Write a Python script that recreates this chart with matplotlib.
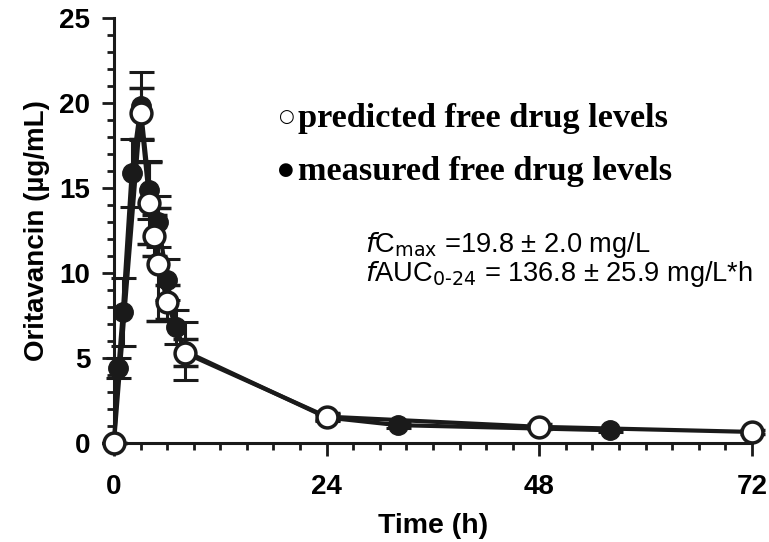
import matplotlib
matplotlib.use("Agg")
import matplotlib.pyplot as plt
from matplotlib.ticker import MultipleLocator

# measured free drug levels (filled)
meas_t = [0, 0.5, 1, 2, 3, 4, 5, 6, 7, 8, 24, 32, 56]
meas_y = [0, 4.4, 7.7, 15.9, 19.8, 14.9, 13.0, 9.6, 6.8, 5.4, 1.5, 1.05, 0.75]
meas_err = [0, 0.6, 2.0, 2.0, 2.0, 1.7, 1.5, 1.2, 1.0, 1.7, 0.2, 0.15, 0.1]

# predicted free drug levels (open)
pred_t = [0, 3, 4, 4.5, 5, 6, 8, 24, 48, 72]
pred_y = [0, 19.4, 14.1, 12.2, 10.5, 8.3, 5.3, 1.55, 0.95, 0.65]
pred_err = [0, 1.5, 2.4, 1.2, 3.3, 1.0, 0.8, 0.2, 0.15, 0.1]

x_ticks = [0, 24, 48, 72]
y_ticks = [0, 5, 10, 15, 20, 25]

plt.rcParams['font.family'] = ['Liberation Sans', 'DejaVu Sans']

fig = plt.figure(figsize=(7.69, 5.42), dpi=100)
ax = fig.add_axes([0.1482, 0.1827, 0.8297, 0.7841])

ax.errorbar(meas_t, meas_y, yerr=meas_err, fmt='-o', color='#1a1a1a',
            lw=3, ms=14, mfc='#1a1a1a', mec='#1a1a1a', elinewidth=2.2,
            capsize=9, capthick=2.2, clip_on=False, zorder=3)
ax.errorbar(pred_t, pred_y, yerr=pred_err, fmt='-o', color='#1a1a1a',
            lw=3, ms=15, mfc='white', mec='#1a1a1a', mew=2.5, elinewidth=2.2,
            capsize=9, capthick=2.2, clip_on=False, zorder=4)

ax.set_xlim(0, 72)
ax.set_ylim(0, 25)
ax.set_xticks(x_ticks)
ax.set_yticks(y_ticks)
ax.xaxis.set_minor_locator(MultipleLocator(3))
ax.yaxis.set_minor_locator(MultipleLocator(1))

for s in ['top', 'right']:
    ax.spines[s].set_visible(False)
for s in ['left', 'bottom']:
    ax.spines[s].set_linewidth(2.2)
    ax.spines[s].set_color('#1a1a1a')

ax.tick_params(which='major', length=9, width=2, color='#1a1a1a')
ax.tick_params(which='minor', length=5, width=2, color='#1a1a1a')
ax.tick_params(axis='x', which='major', pad=13)
ax.tick_params(axis='y', which='major', pad=8)
for lab in ax.get_xticklabels() + ax.get_yticklabels():
    lab.set_fontsize(20)
    lab.set_fontweight('bold')

ax.set_xlabel('Time (h)', fontsize=20.5, fontweight='bold', labelpad=10)
ax.set_ylabel('Oritavancin (\u00b5g/mL)', fontsize=20, fontweight='bold', labelpad=7)

serif = ['Liberation Serif', 'DejaVu Serif']
fig.text(0.3615, 0.784, '\u25cb', fontsize=13, family=['DejaVu Sans'], va='center')
fig.text(0.3875, 0.782, 'predicted free drug levels', fontsize=24.7, family=serif,
         fontweight='bold', va='center')
fig.text(0.3615, 0.686, '\u25cf', fontsize=13, family=['DejaVu Sans'], va='center')
fig.text(0.3875, 0.684, 'measured free drug levels', fontsize=24.7, family=serif,
         fontweight='bold', va='center')

fig.text(0.475, 0.535, r'$\it{f}$C$_{\rm max}$ =19.8 ± 2.0 mg/L', fontsize=19.6)
fig.text(0.475, 0.4815, r'$\it{f}$AUC$_{\rm 0\text{-}24}$ = 136.8 ± 25.9 mg/L*h', fontsize=19.6)

fig.savefig('out.png', dpi=100)
